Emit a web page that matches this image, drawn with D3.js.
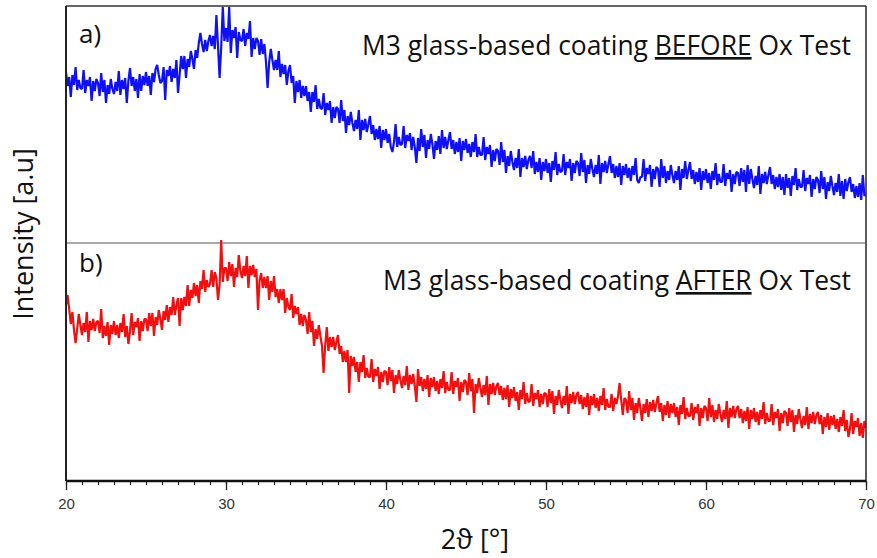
<!DOCTYPE html>
<html>
<head>
<meta charset="utf-8">
<script src="https://cdn.jsdelivr.net/npm/d3@7"></script>
<style>
  body { margin: 0; background: #fff; }
  svg { display: block; }
</style>
</head>
<body>
<svg id="chart" width="877" height="558"></svg>
<script>
// XRD patterns of the M3 glass-based coating, sampled every 0.1° from 20° to 70° 2θ
const angleStart = 20;
const angleStep = 0.1;

// a) before oxidation test
const beforeOx = [
  171,157,166,146,168,158,176,153,163,155,
  154,173,150,163,157,166,142,162,152,164,
  160,147,170,151,163,140,158,149,164,154,
  149,161,152,172,148,163,154,165,140,162,
  175,157,166,152,164,145,169,152,167,158,
  171,157,167,148,170,161,174,178,168,160,
  162,176,143,173,167,177,161,174,165,183,
  150,168,187,174,187,165,184,176,192,184,
  174,193,185,200,210,199,191,203,192,202,
  208,197,207,194,228,197,165,196,236,202,
  215,201,236,190,213,205,216,185,211,203,
  202,214,197,210,204,222,186,205,194,205,
  202,188,204,189,199,181,155,181,194,183,
  173,183,173,192,166,179,169,178,158,172,
  178,160,167,140,162,151,163,145,157,147,
  157,142,151,131,151,141,158,134,144,135,
  134,150,128,140,133,142,120,136,125,136,
  134,120,143,122,133,110,127,118,131,120,
  112,123,114,133,103,123,113,124,111,119,
  127,109,118,103,114,104,117,95,113,103,
  114,100,109,96,91,101,119,96,106,98,
  99,117,95,108,102,110,93,106,96,80,
  105,92,114,96,108,85,103,94,109,99,
  84,102,93,107,89,113,95,106,94,103,
  111,94,103,89,101,91,105,82,102,93,
  104,90,99,86,101,91,109,86,96,88,
  88,106,83,96,89,98,76,93,82,94,
  92,78,101,81,93,70,87,77,92,81,
  73,85,75,94,66,85,76,87,74,83,
  87,75,92,69,81,71,85,63,81,72,
  84,70,80,61,82,73,91,68,79,71,
  72,89,68,81,75,84,62,80,70,82,
  80,67,90,71,83,60,78,69,84,74,
  66,78,69,88,59,80,71,82,70,79,
  87,70,79,65,77,66,80,58,77,68,
  79,65,75,62,77,68,85,63,60,66,
  66,84,62,75,69,78,56,74,64,76,
  74,56,84,65,77,60,72,63,78,68,
  60,72,63,77,53,74,65,82,64,73,
  81,64,73,59,71,61,75,53,72,63,
  74,60,70,54,72,63,80,58,69,61,
  61,79,57,70,64,73,51,69,59,71,
  70,57,75,61,73,51,78,59,74,64,
  55,67,58,77,49,69,60,71,59,68,
  76,59,68,54,66,56,69,53,66,48,
  69,55,65,47,67,58,75,53,64,56,
  56,73,52,65,59,68,46,64,54,66,
  63,50,72,54,66,44,61,52,67,57,
  48,60,51,69,47,62,44,64,52,61,
  66,51,59,45,57,46,60,43,68,47,
  50
];

// b) after oxidation test
const afterOx = [
  176,186,172,157,169,151,138,152,167,156,
  146,158,149,169,139,160,151,162,150,159,
  160,148,172,143,155,145,159,136,156,147,
  160,146,156,143,158,149,167,144,155,137,
  150,168,146,159,154,163,140,160,150,162,
  162,150,168,155,168,145,164,156,171,162,
  151,170,161,176,159,174,166,184,166,176,
  183,155,183,171,184,175,196,175,191,183,
  198,185,196,178,200,192,211,189,201,194,
  197,211,194,209,203,181,196,241,199,213,
  213,200,219,205,217,194,213,204,226,210,
  203,215,205,225,193,215,206,216,204,212,
  171,201,208,193,204,193,205,181,200,189,
  205,184,192,178,192,181,192,168,183,174,
  171,187,163,175,167,174,156,167,155,166,
  161,147,169,149,160,135,152,142,156,145,
  135,108,136,154,130,144,134,144,131,139,
  146,127,135,119,130,119,131,88,125,115,
  124,109,119,99,119,109,126,103,113,104,
  104,122,99,112,105,114,92,109,99,110,
  109,96,114,100,111,88,106,97,111,101,
  93,105,96,115,91,106,97,107,95,79,
  112,95,104,90,102,92,106,84,103,94,
  104,90,100,87,102,93,110,88,99,91,
  91,109,87,100,94,103,80,99,89,101,
  99,86,108,90,102,68,97,88,103,93,
  84,96,86,105,76,97,87,98,86,95,
  98,86,95,81,93,82,96,74,92,83,
  94,80,89,71,91,82,99,77,88,79,
  80,97,75,88,82,91,74,87,77,88,
  87,74,92,78,90,67,85,76,91,81,
  73,85,76,95,67,87,78,89,77,86,
  89,77,86,72,84,74,88,66,85,76,
  87,73,83,70,85,76,93,71,82,74,
  74,87,70,83,77,85,98,81,66,83,
  81,68,90,71,83,61,78,68,83,73,
  60,77,68,82,64,79,70,81,69,78,
  85,69,78,60,76,66,80,63,77,68,
  78,64,74,56,76,67,84,62,73,65,
  65,78,61,74,68,77,55,73,63,75,
  73,60,83,64,76,59,71,62,77,67,
  59,71,62,80,53,73,64,75,63,72,
  75,63,72,58,70,60,74,52,71,62,
  73,59,69,56,71,62,79,57,68,60,
  60,77,56,69,63,72,50,68,58,70,
  68,55,73,59,71,49,66,57,72,62,
  53,65,56,74,52,67,58,69,57,66,
  69,57,66,47,64,54,68,51,65,56,
  66,52,62,49,64,55,71,50,61,44,
  52,68,47,60,54,63,45,58,43,60,
  53
];

const xDomain = [20, 70];
const majorTicks = [20, 30, 40, 50, 60, 70];
const panelLetters = ["a)", "b)"];
const panelTitles = [
  ["M3 glass-based coating ", "BEFORE", " Ox Test"],
  ["M3 glass-based coating ", "AFTER", " Ox Test"]
];
const xTitle = "2\u03D1 [\u00B0]";
const yTitle = "Intensity [a.u]";

const svg = d3.select("#chart");
const frame = { left: 66, right: 866, top: 6, mid: 243, bottom: 481 };

const x = d3.scaleLinear().domain(xDomain).range([frame.left, frame.right]);
const yTop = d3.scaleLinear().domain([0, 237]).range([frame.mid, frame.top]);
const yBot = d3.scaleLinear().domain([0, 238]).range([frame.bottom, frame.mid]);

const toPoints = arr => arr.map((v, i) => [angleStart + i * angleStep, v]);

svg.append("defs").append("clipPath").attr("id", "plotClip")
  .append("rect").attr("x", frame.left).attr("y", frame.top)
  .attr("width", frame.right - frame.left).attr("height", frame.bottom - frame.top);

const plot = svg.append("g").attr("clip-path", "url(#plotClip)");

const lineTop = d3.line().x(d => x(d[0])).y(d => yTop(d[1]));
const lineBot = d3.line().x(d => x(d[0])).y(d => yBot(d[1]));

plot.append("path").datum(toPoints(beforeOx))
  .attr("d", lineTop).attr("fill", "none")
  .attr("stroke", "#1010f5").attr("stroke-width", 2.2)
  .attr("stroke-linejoin", "bevel");

plot.append("path").datum(toPoints(afterOx))
  .attr("d", lineBot).attr("fill", "none")
  .attr("stroke", "#f01010").attr("stroke-width", 2.2)
  .attr("stroke-linejoin", "bevel");

// frame
svg.append("line").attr("x1", frame.left).attr("x2", frame.right)
  .attr("y1", frame.top).attr("y2", frame.top)
  .attr("stroke", "#333").attr("stroke-width", 1.6);
svg.append("line").attr("x1", frame.right).attr("x2", frame.right)
  .attr("y1", frame.top).attr("y2", frame.bottom)
  .attr("stroke", "#333").attr("stroke-width", 1.6);
svg.append("line").attr("x1", frame.left).attr("x2", frame.right)
  .attr("y1", frame.mid).attr("y2", frame.mid)
  .attr("stroke", "#555").attr("stroke-width", 1.2);
svg.append("line").attr("x1", frame.left).attr("x2", frame.left)
  .attr("y1", frame.top).attr("y2", frame.bottom)
  .attr("stroke", "#222").attr("stroke-width", 2);

// x axis: minor ticks every degree, labelled major ticks every ten
const axisMinor = d3.axisBottom(x).tickValues(d3.range(20, 71, 1))
  .tickSize(4).tickFormat("");
svg.append("g").attr("transform", `translate(0,${frame.bottom})`).call(axisMinor)
  .call(g => g.select(".domain").remove())
  .call(g => g.selectAll("line").attr("stroke", "#222").attr("stroke-width", 1.2));

const axisMajor = d3.axisBottom(x).tickValues(majorTicks).tickSize(9).tickPadding(8)
  .tickFormat(d3.format("d"));
svg.append("g").attr("transform", `translate(0,${frame.bottom})`).call(axisMajor)
  .call(g => g.select(".domain").attr("stroke", "#111").attr("stroke-width", 2.4)
    .attr("d", `M${frame.left},0H${frame.right}`))
  .call(g => g.selectAll("line").attr("stroke", "#222").attr("stroke-width", 1.3))
  .call(g => g.selectAll("text").attr("fill", "#333")
    .style("font-family", "'Liberation Sans', Arial, sans-serif").style("font-size", "15px"));

// panel labels
const font = "'Open Sans', 'Noto Sans', sans-serif";
[[43, 0], [272, 1]].forEach(([yy, k]) => {
  svg.append("text").attr("x", 79).attr("y", yy).text(panelLetters[k])
    .attr("fill", "#111").style("font-family", font).style("font-size", "26px");
});

[[55, 0], [290, 1]].forEach(([yy, k]) => {
  const t = svg.append("text").attr("x", 851).attr("y", yy).attr("text-anchor", "end")
    .attr("fill", "#111").style("font-family", font).style("font-size", "26.4px");
  panelTitles[k].forEach((s, j) => {
    const ts = t.append("tspan").text(s);
    if (j === 1) ts.style("text-decoration", "underline");
  });
});

// axis titles
svg.append("text").attr("x", 475).attr("y", 549).attr("text-anchor", "middle")
  .text(xTitle).attr("fill", "#111").style("font-family", font).style("font-size", "27px");

svg.append("text").attr("transform", "translate(33,234) rotate(-90)")
  .attr("text-anchor", "middle").text(yTitle)
  .attr("fill", "#111").style("font-family", font).style("font-size", "27px");
</script>
</body>
</html>
